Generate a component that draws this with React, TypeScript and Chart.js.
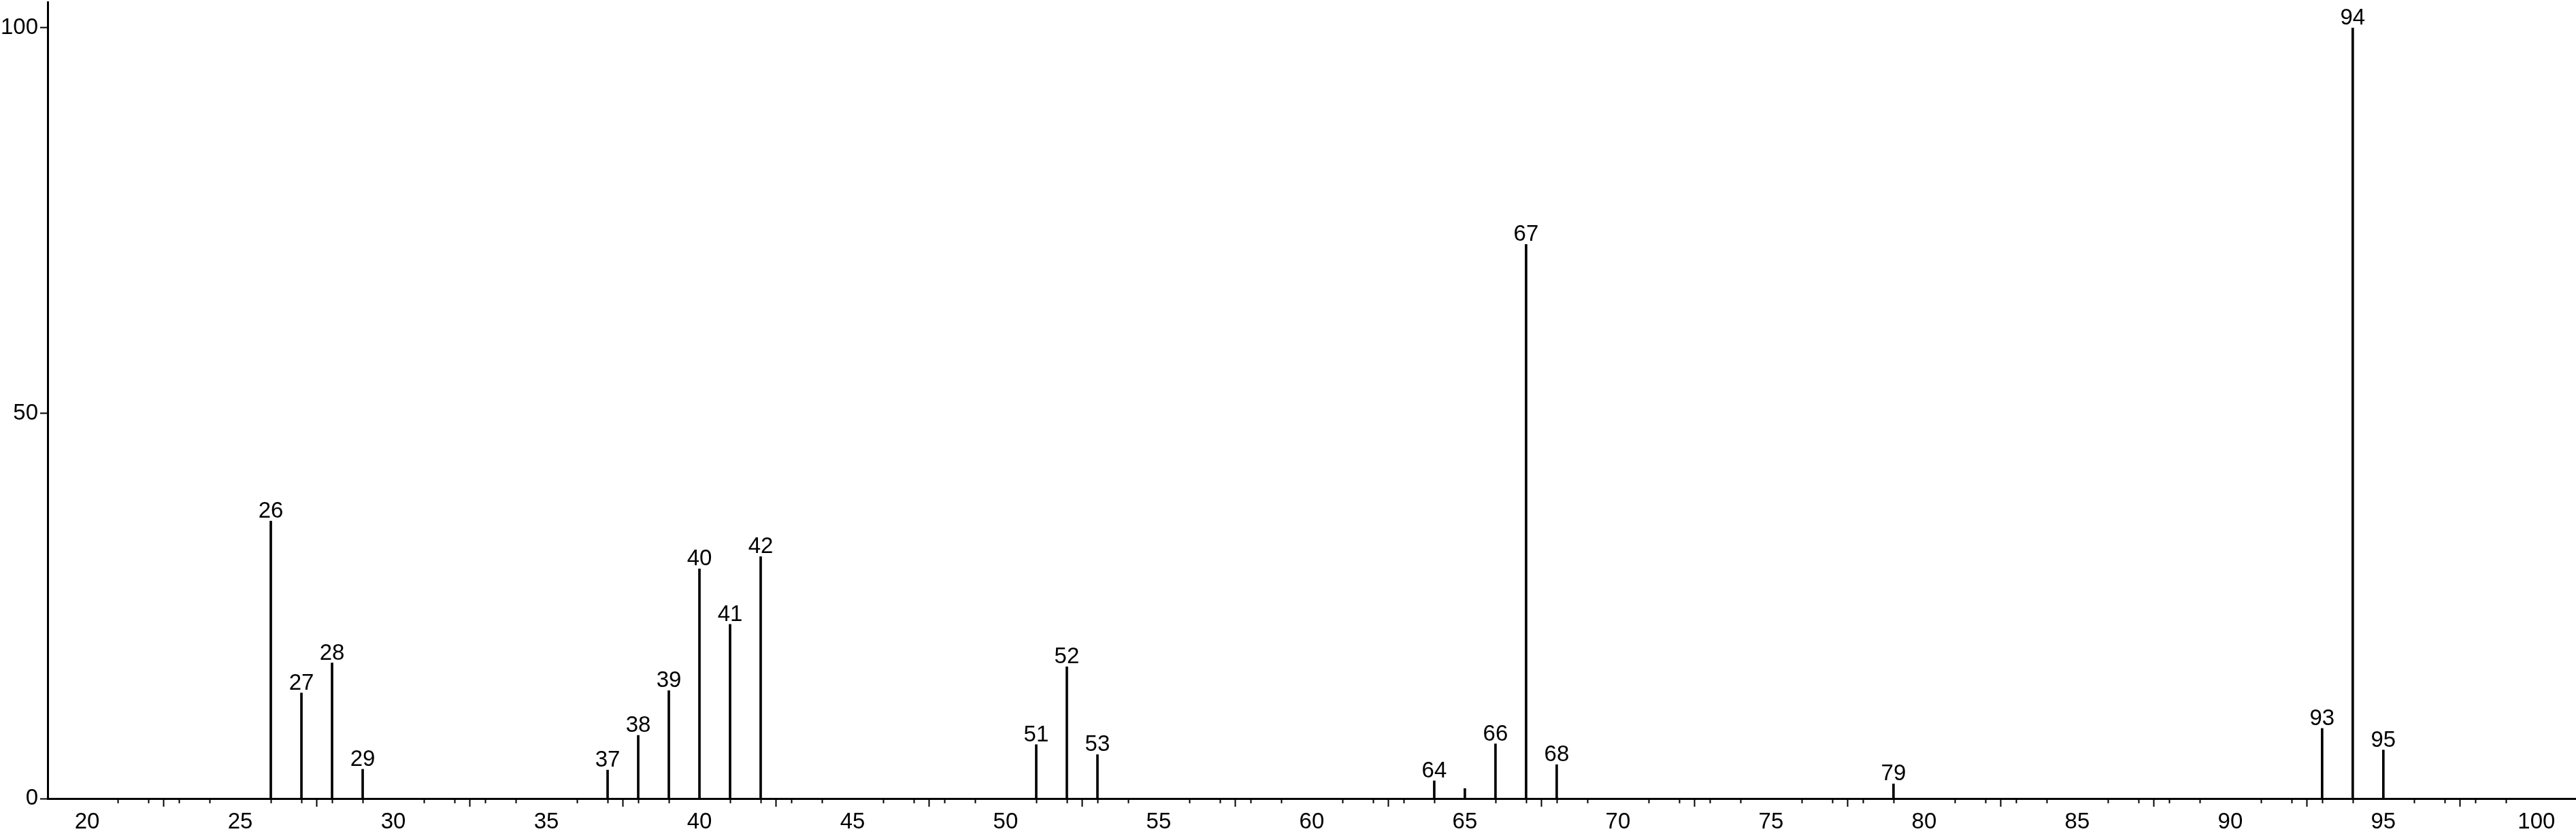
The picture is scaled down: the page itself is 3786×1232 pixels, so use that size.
import React, { useEffect, useRef } from 'react';
import { Chart, registerables } from 'chart.js';

Chart.register(...registerables);

// m/z of each peak
const mzValues = [26, 27, 28, 29, 37, 38, 39, 40, 41, 42, 51, 52, 53, 64, 65, 66, 67, 68, 79, 93, 94, 95];
// relative intensity (%) of each peak
const intensities = [36.0, 13.7, 17.6, 3.8, 3.7, 8.2, 14.0, 29.8, 22.6, 31.4, 7.0, 17.1, 5.7, 2.3, 1.3, 7.1, 71.9, 4.4, 1.9, 9.1, 100, 6.3];
// peaks that carry a label
const labeledMz = [26, 27, 28, 29, 37, 38, 39, 40, 41, 42, 51, 52, 53, 64, 66, 67, 68, 79, 93, 94, 95];
// axis ranges and ticks
const xRange = [18.71, 101.27];
const yRange = [0, 103.35];
const xMajorStep = 5;
const yStep = 50;
const xMinorTicks = Array.from({ length: 81 }, (_, i) => 20 + i);

const FONT = "'Liberation Sans', Arial, sans-serif";
const FONT_SIZE = 33;

export default function App() {
  const ref = useRef<HTMLCanvasElement | null>(null);

  useEffect(() => {
    document.body.style.margin = '0';
    const canvas = ref.current;
    if (!canvas) return;

    const peakLabels = {
      id: 'peakLabels',
      afterDatasetsDraw(chart: any) {
        const ctx = chart.ctx;
        const xs = chart.scales.x;
        const ys = chart.scales.y;
        ctx.save();
        ctx.fillStyle = '#000';
        ctx.font = `${FONT_SIZE}px ${FONT}`;
        ctx.textAlign = 'center';
        ctx.textBaseline = 'alphabetic';
        mzValues.forEach((mz, i) => {
          if (!labeledMz.includes(mz)) return;
          const px = xs.getPixelForValue(mz);
          const py = ys.getPixelForValue(intensities[i]);
          ctx.fillText(String(mz), px, py - 5);
        });
        ctx.restore();
      },
      afterDraw(chart: any) {
        const ctx = chart.ctx;
        const xs = chart.scales.x;
        const bottom = chart.chartArea.bottom;
        ctx.save();
        ctx.strokeStyle = '#000';
        ctx.lineWidth = 2;
        ctx.beginPath();
        xMinorTicks.forEach((v) => {
          if (v % xMajorStep === 0) return;
          const px = Math.round(xs.getPixelForValue(v)) + 0.5;
          ctx.moveTo(px, bottom);
          ctx.lineTo(px, bottom + 7);
        });
        ctx.stroke();
        ctx.restore();
      },
    };

    const chart = new Chart(canvas, {
      type: 'bar',
      data: {
        datasets: [
          {
            data: mzValues.map((x, i) => ({ x, y: intensities[i] })),
            backgroundColor: '#000',
            borderWidth: 0,
            barThickness: 3,
          },
        ],
      },
      options: {
        animation: false,
        responsive: false,
        maintainAspectRatio: false,
        layout: { padding: { top: 3, right: 1, left: 0, bottom: 0 } },
        plugins: {
          legend: { display: false },
          tooltip: { enabled: false },
          title: { display: false },
        },
        scales: {
          x: {
            type: 'linear',
            min: xRange[0],
            max: xRange[1],
            offset: false,
            afterFit: (s: any) => {
              s.height = 58;
              s.paddingLeft = 0;
              s.paddingRight = 0;
            },
            grid: {
              drawOnChartArea: false,
              drawTicks: true,
              tickLength: 12,
              tickWidth: 2,
              tickColor: '#000',
            },
            border: { display: true, color: '#000', width: 3 },
            ticks: {
              stepSize: xMajorStep,
              includeBounds: false,
              autoSkip: false,
              maxRotation: 0,
              minRotation: 0,
              padding: 3,
              color: '#000',
              font: { family: FONT, size: FONT_SIZE },
            },
          },
          y: {
            type: 'linear',
            min: yRange[0],
            max: yRange[1],
            afterFit: (s: any) => {
              s.width = 70;
              s.paddingTop = 0;
              s.paddingBottom = 0;
            },
            grid: {
              drawOnChartArea: false,
              drawTicks: true,
              tickLength: 11,
              tickWidth: 2,
              tickColor: '#000',
            },
            border: { display: true, color: '#000', width: 3 },
            ticks: {
              stepSize: yStep,
              includeBounds: false,
              padding: 3,
              color: '#000',
              font: { family: FONT, size: FONT_SIZE },
            },
          },
        },
      },
      plugins: [peakLabels],
    });

    return () => {
      chart.destroy();
    };
  }, []);

  return (
    <canvas
      ref={ref}
      width={3786}
      height={1232}
      style={{ display: 'block', width: '3786px', height: '1232px', background: '#fff' }}
    />
  );
}
